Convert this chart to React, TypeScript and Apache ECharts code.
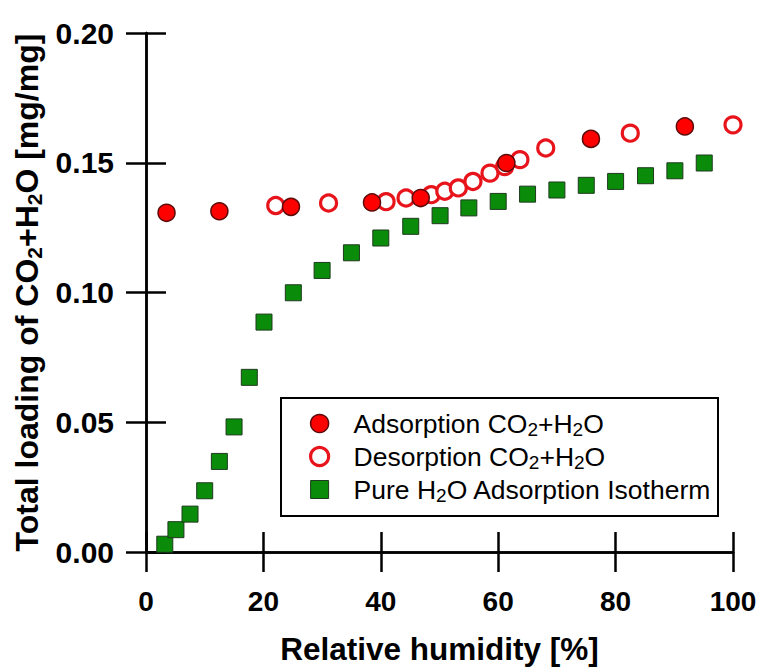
import React, { useEffect, useRef } from 'react';
import * as echarts from 'echarts';

// Relative humidity [%] and total loading [mg/mg]
const adsorptionRH = [3.5, 12.5, 24.7, 38.5, 46.8, 61.4, 75.8, 91.8];
const adsorptionLoad = [0.1307, 0.1313, 0.133, 0.1347, 0.1364, 0.1499, 0.1592, 0.164];

const desorptionRH = [22.1, 31.1, 40.9, 44.3, 48.6, 50.9, 53.2, 55.7, 58.6, 61.1, 63.7, 68.1, 82.5, 100];
const desorptionLoad = [0.1335, 0.1345, 0.135, 0.1364, 0.1377, 0.139, 0.1403, 0.1428, 0.146, 0.1485, 0.1512, 0.1557, 0.1614, 0.1646];

const pureRH = [3.2, 5.1, 7.5, 10, 12.5, 15, 17.6, 20.1, 25.1, 30, 35, 40, 45.1, 50.1, 55, 60, 65, 70, 75, 80, 85.1, 90.1, 95.1];
const pureLoad = [0.003, 0.0086, 0.0146, 0.0236, 0.0349, 0.0482, 0.0673, 0.0886, 0.0999, 0.1085, 0.1153, 0.121, 0.1255, 0.1296, 0.1326, 0.1351, 0.1379, 0.1395, 0.1413, 0.1428, 0.145, 0.1469, 0.1499];

const seriesNames = ['Adsorption CO2+H2O', 'Desorption CO2+H2O', 'Pure H2O Adsorption Isotherm'];
const xTitle = 'Relative humidity [%]';
const yTitle = 'Total loading of CO2+H2O [mg/mg]';

const FONT = '"Liberation Sans", Arial, Helvetica, sans-serif';

function toRich(name: string, first: string, normal: string) {
  const parts = name.split('2');
  return parts
    .map((p, i) => (i === 0 ? `{${first}|${p}}` : `{s|2}{${normal}|${p}}`))
    .join('');
}

function zip(xs: number[], ys: number[]) {
  return xs.map((x, i) => [x, ys[i]]);
}

export default function App() {
  const ref = useRef<HTMLDivElement>(null);

  useEffect(() => {
    if (!ref.current) return;
    const chart = echarts.init(ref.current, undefined, { renderer: 'svg' });

    const axisLine = { show: true, lineStyle: { color: '#000', width: 2.5 } };
    const axisTick = { show: true, inside: false, length: 20, lineStyle: { color: '#000', width: 2.5 } };
    const labelStyle = { color: '#000', fontFamily: FONT, fontWeight: 'bold' as const };

    chart.setOption({
      animation: false,
      backgroundColor: '#fff',
      grid: { left: 146, top: 33, width: 587, height: 520, containLabel: false },
      xAxis: [
        {
          type: 'value',
          position: 'bottom',
          min: 0,
          max: 100,
          interval: 20,
          axisLine,
          axisTick,
          splitLine: { show: false },
          axisLabel: { ...labelStyle, fontSize: 28, margin: 35 },
          name: xTitle,
          nameLocation: 'middle',
          nameGap: 81,
          nameTextStyle: { color: '#000', fontFamily: FONT, fontWeight: 'bold', fontSize: 31.5 },
        },
        {
          type: 'value',
          position: 'top',
          min: 0,
          max: 100,
          interval: 20,
          axisLine,
          axisTick,
          splitLine: { show: false },
          axisLabel: { show: false },
        },
      ],
      yAxis: [
        {
          type: 'value',
          position: 'left',
          min: 0,
          max: 0.2,
          interval: 0.05,
          axisLine,
          axisTick,
          splitLine: { show: false },
          axisLabel: { ...labelStyle, fontSize: 30, margin: 32, formatter: (v: number) => v.toFixed(2) },
          name: toRich(yTitle, 'n', 'n'),
          nameLocation: 'middle',
          nameGap: 101,
          nameTextStyle: {
            color: '#000',
            fontFamily: FONT,
            fontWeight: 'bold',
            fontSize: 32,
            rich: {
              n: { color: '#000', fontFamily: FONT, fontWeight: 'bold', fontSize: 32, lineHeight: 36 },
              s: { color: '#000', fontFamily: FONT, fontWeight: 'bold', fontSize: 21, lineHeight: 16, verticalAlign: 'bottom' },
            },
          },
        },
        {
          type: 'value',
          position: 'right',
          min: 0,
          max: 0.2,
          interval: 0.05,
          axisLine,
          axisTick,
          splitLine: { show: false },
          axisLabel: { show: false },
        },
      ],
      legend: {
        show: true,
        orient: 'vertical',
        left: 281,
        top: 398,
        padding: [12, 8, 8, 28],
        itemGap: 4.5,
        itemWidth: 18,
        itemHeight: 18,
        data: seriesNames,
        itemStyle: { borderWidth: 'inherit' },
        formatter: (name: string) => toRich(name, 'f', 'n'),
        textStyle: {
          color: '#000',
          fontFamily: FONT,
          fontSize: 26.5,
          rich: {
            f: { color: '#000', fontFamily: FONT, fontSize: 26.5, lineHeight: 30, padding: [0, 0, 0, 20] },
            n: { color: '#000', fontFamily: FONT, fontSize: 26.5, lineHeight: 30 },
            s: { color: '#000', fontFamily: FONT, fontSize: 19, lineHeight: 12, verticalAlign: 'bottom' },
          },
        },
      },
      graphic: [
        {
          type: 'rect',
          z: 1,
          shape: { x: 281, y: 398, width: 437, height: 118 },
          style: { fill: '#fff', stroke: '#000', lineWidth: 2 },
        },
      ],
      series: [
        {
          name: seriesNames[1],
          type: 'scatter',
          xAxisIndex: 0,
          yAxisIndex: 0,
          symbol: 'circle',
          symbolSize: 16,
          data: zip(desorptionRH, desorptionLoad),
          itemStyle: { color: '#ffffff', borderColor: '#e8141c', borderWidth: 3.2, opacity: 1 },
          z: 3,
        },
        {
          name: seriesNames[2],
          type: 'scatter',
          xAxisIndex: 0,
          yAxisIndex: 0,
          symbol: 'rect',
          symbolSize: 16,
          data: zip(pureRH, pureLoad),
          itemStyle: { color: '#0a8c0a', borderColor: '#1e3a1e', borderWidth: 1, opacity: 1 },
          z: 3,
        },
        {
          name: seriesNames[0],
          type: 'scatter',
          xAxisIndex: 0,
          yAxisIndex: 0,
          symbol: 'circle',
          symbolSize: 17,
          data: zip(adsorptionRH, adsorptionLoad),
          itemStyle: { color: '#ff0000', borderColor: '#5c0a0a', borderWidth: 1.5, opacity: 1 },
          z: 4,
        },
      ],
    });

    return () => {
      chart.dispose();
    };
  }, []);

  return (
    <div
      ref={ref}
      style={{ position: 'absolute', left: 0, top: 0, width: 762, height: 670, background: '#fff' }}
    />
  );
}
